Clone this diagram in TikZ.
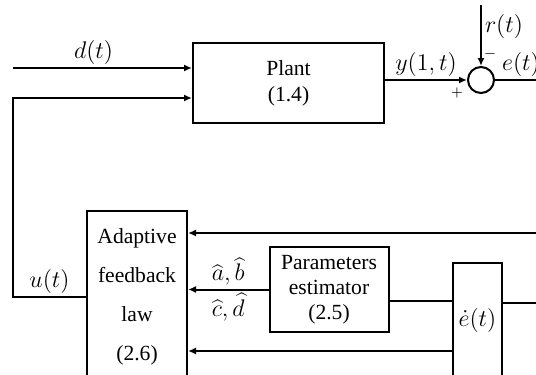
\documentclass[tikz,border=0pt]{standalone}
\usepackage{fontspec}
\setmainfont{Liberation Serif}
\usetikzlibrary{arrows.meta,positioning}

\tikzset{
  block/.style={draw, line width=1pt, rectangle, align=center,
    font=\fontsize{10.8}{13}\selectfont},
  sumpt/.style={draw, line width=1pt, circle, minimum size=13pt, inner sep=0pt},
  sig/.style={line width=1pt},
  arr/.style={sig, -{Latex[length=4pt,width=3.5pt]}},
  lbl/.style={font=\fontsize{12.5}{14}\selectfont, inner sep=1.5pt},
  sgn/.style={font=\scriptsize, inner sep=0pt}
}

\begin{document}
\begin{tikzpicture}[x=0.5pt,y=-0.5pt]
  \useasboundingbox (0,0) rectangle (536,375);
  \clip (0,0) rectangle (536,375);

  % blocks
  \node [block, minimum width=95.5pt, minimum height=40pt] (plant) at (288.5,83) {Plant\\(1.4)};
  \node [sumpt] (sum) at (481,80) {};
  \node [block, minimum width=50pt, minimum height=86pt,
    font=\fontsize{10.8}{19.5}\selectfont] (adapt) at (137,297) {Adaptive\\feedback\\law\\(2.6)};
  \node [block, minimum width=59.5pt, minimum height=42.5pt,
    font=\fontsize{10.8}{12.5}\selectfont] (est) at (329,289.5) {Parameters\\estimator\\(2.5)};
  \node [block, minimum width=24.5pt, minimum height=57.5pt, inner xsep=1.5pt,
    font=\fontsize{12.5}{14}\selectfont] (edot) at (477.5,320.5) {$\dot e(t)$};

  % free ends
  \coordinate (din) at (13,68);
  \coordinate (fbk) at (13,98);
  \coordinate (rin) at (481,5);
  \coordinate (eout) at (560,80);
  \coordinate (fbtop) at (560,233);
  \coordinate (estout) at ([yshift=-5.75pt]est.east);
  \coordinate (edout) at ([yshift=8.75pt]edot.east);
  \coordinate (edlow) at ([yshift=-15.25pt]edot.west);

  % plant loop
  \draw [arr] (din) -- node [lbl, above, pos=0.45] {$d(t)$} (din -| plant.west);
  \draw [arr] (adapt.west) -- node [lbl, above] {$u(t)$} (fbk |- adapt.west) -- (fbk) -- (fbk -| plant.west);
  \draw [arr] (plant.east |- sum) -- node [lbl, above] {$y(1,t)$} (sum.west);
  \draw [arr] (rin) -- node [lbl, right, pos=0.35] {$r(t)$} (sum.north);
  \draw [sig] (sum.east) -- node [lbl, above, pos=0.4] {$e(t)$} (eout);
  \node [sgn] (plus) at (457,93) {$+$};
  \node [sgn] (minus) at (490,54) {$-$};

  % adaptation
  \draw [arr] (fbtop) -- (fbtop -| adapt.east);
  \draw [arr] (est.west) -- node [lbl, above] {$\widehat a,\widehat b$}
    node [lbl, below] {$\widehat c,\widehat d$} (est.west -| adapt.east);
  \draw [sig] (estout) -- (estout -| edot.west);
  \draw [sig] (edout) -- (edout -| eout);
  \draw [arr] (edlow) -- (edlow -| adapt.east);
\end{tikzpicture}
\end{document}
